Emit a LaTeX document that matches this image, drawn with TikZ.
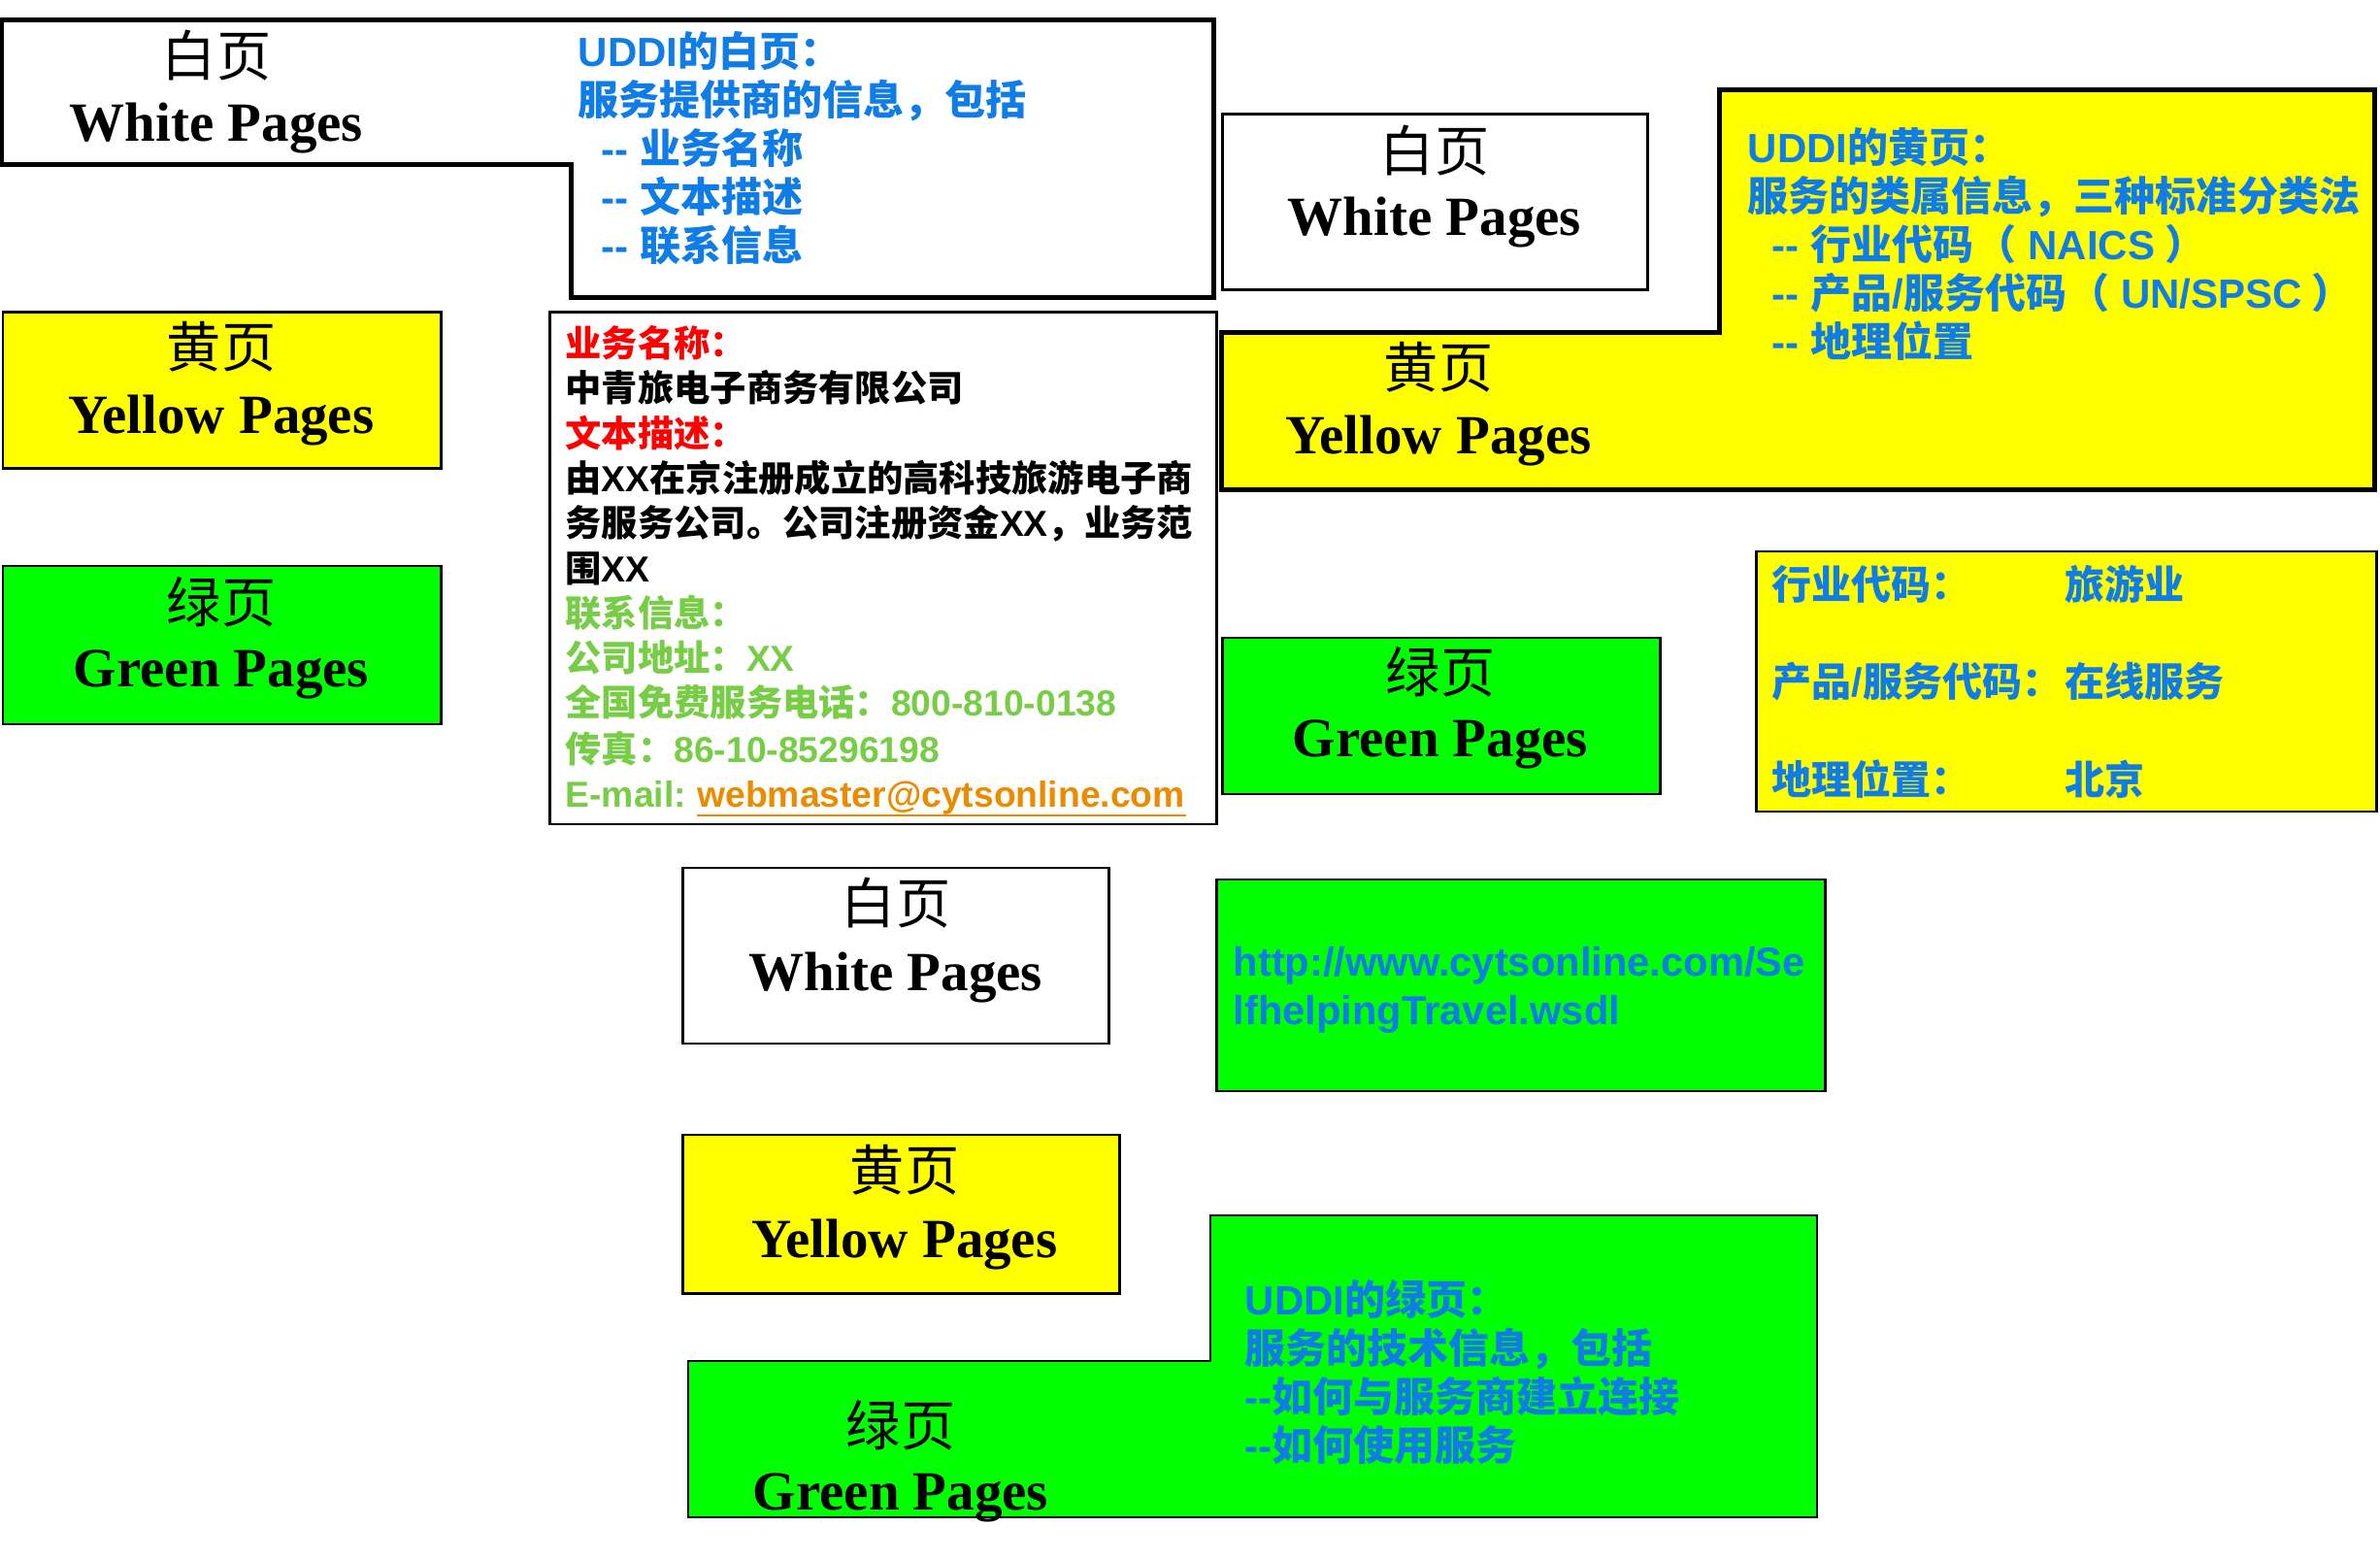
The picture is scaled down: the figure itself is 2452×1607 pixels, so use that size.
\documentclass[tikz,border=0pt]{standalone}
\usepackage{fontspec}
\usetikzlibrary{calc}
\newfontfamily\cjkf{Noto Sans CJK SC}
\newfontfamily\arialf{Liberation Sans}
\newfontfamily\timesf{Liberation Serif}
\newcommand\latn[1]{{\arialf\bfseries #1}}
\definecolor{ublue}{RGB}{16,124,230}
\definecolor{ured}{RGB}{255,0,0}
\definecolor{ugreen}{RGB}{120,205,70}
\definecolor{uorange}{RGB}{235,140,0}
\definecolor{pyellow}{RGB}{255,255,0}
\definecolor{pgreen}{RGB}{0,255,0}

\begin{document}
\begin{tikzpicture}[x=0.01cm,y=-0.01cm,
  txt/.style={inner sep=0pt, anchor=base west},
  bluetxt/.style={txt, text=ublue, font=\cjkf\bfseries\fontsize{11.95}{14}\selectfont},
  infotxt/.style={txt, font=\cjkf\bfseries\fontsize{10.6}{12}\selectfont},
  codetxt/.style={txt, text=ublue, font=\cjkf\bfseries\fontsize{11.67}{14}\selectfont},
  urltxt/.style={txt, text=ublue, font=\arialf\bfseries\fontsize{11.85}{14}\selectfont},
  ttlcjk/.style={inner sep=0pt, anchor=center, font=\cjkf\fontsize{16}{18}\selectfont},
  ttllat/.style={inner sep=0pt, anchor=base, font=\timesf\bfseries\fontsize{16.2}{18}\selectfont},
  boxheavy/.style={draw=black, line width=1.42pt, line join=miter},
  boxline/.style={draw=black, line width=0.85pt},
  boxslim/.style={draw=black, line width=0.57pt},
]
\useasboundingbox (0,0) rectangle (2452,1607);
\fill[white] (0,0) rectangle (2452,1607);

% ---- left column: the three page kinds ----
\path[boxheavy, fill=white] (2,21) -- (1250,21) -- (1250,307) -- (588,307) -- (588,170) -- (2,170) -- cycle;
\path[boxline, fill=pyellow] (3,322) rectangle (454,483);
\path[boxline, fill=pgreen] (3,583) rectangle (454,746);

% ---- business entity details ----
\path[boxline, fill=white] (566,322) rectangle (1253,849);

% ---- middle-bottom stack ----
\path[boxline, fill=white] (703,894) rectangle (1142,1075);
\path[boxline, fill=pyellow] (703,1169) rectangle (1153,1332);
\path[boxslim, fill=pgreen] (709,1402) -- (1247,1402) -- (1247,1252) -- (1872,1252) -- (1872,1563) -- (709,1563) -- cycle;

% ---- right column ----
\path[boxline, fill=white] (1259,118) rectangle (1697,299);
\path[boxheavy, fill=pyellow] (1258,343) -- (1771,343) -- (1771,93) -- (2446,93) -- (2446,505) -- (1258,505) -- cycle;
\path[boxline, fill=pgreen] (1259,657) rectangle (1710,818);
\path[boxline, fill=pyellow] (1809,568) rectangle (2448,836);
\path[boxline, fill=pgreen] (1253,906) rectangle (1880,1124);

% ---- page titles ----
\node[ttlcjk] (wp1c) at (223,57) {白页};
\node[ttllat] (wp1l) at (223,146) {White Pages};
\node[ttlcjk] (yp1c) at (228,357) {黄页};
\node[ttllat] (yp1l) at (228,447) {Yellow Pages};
\node[ttlcjk] (gp1c) at (228,620) {绿页};
\node[ttllat] (gp1l) at (228,708) {Green Pages};

\node[ttlcjk] (wp2c) at (1478,155) {白页};
\node[ttllat] (wp2l) at (1478,243) {White Pages};
\node[ttlcjk] (yp2c) at (1482,378) {黄页};
\node[ttllat] (yp2l) at (1482,468) {Yellow Pages};
\node[ttlcjk] (gp2c) at (1484,692) {绿页};
\node[ttllat] (gp2l) at (1484,780) {Green Pages};

\node[ttlcjk] (wp3c) at (923,930) {白页};
\node[ttllat] (wp3l) at (923,1020) {White Pages};
\node[ttlcjk] (yp3c) at (932,1205) {黄页};
\node[ttllat] (yp3l) at (932,1295) {Yellow Pages};
\node[ttlcjk] (gp3c) at (928,1468) {绿页};
\node[ttllat] (gp3l) at (928,1555) {Green Pages};

% ---- white pages description ----
\node[bluetxt] (wa1) at (595,69) {\latn{UDDI}的白页：};
\node[bluetxt] (wa2) at (595,119) {服务提供商的信息，包括};
\node[bluetxt] (wa3) at (619,169) {\latn{-{}- }业务名称};
\node[bluetxt] (wa4) at (619,219) {\latn{-{}- }文本描述};
\node[bluetxt] (wa5) at (619,269) {\latn{-{}- }联系信息};

% ---- yellow pages description ----
\node[bluetxt] (wb1) at (1800,168) {\latn{UDDI}的黄页：};
\node[bluetxt] (wb2) at (1800,218) {服务的类属信息，三种标准分类法};
\node[bluetxt] (wb3) at (1825,268) {\latn{-{}- }行业代码\hspace{0.6pt}（\hspace{3.4pt}\latn{NAICS}\hspace{2.8pt}）};
\node[bluetxt] (wb4) at (1825,318) {\latn{-{}- }产品\latn{/}服务代码\hspace{0.6pt}（\hspace{3.4pt}\latn{UN/SPSC}\hspace{2.8pt}）};
\node[bluetxt] (wb5) at (1825,368) {\latn{-{}- }地理位置};

% ---- green pages description ----
\node[bluetxt] (wc1) at (1282,1354) {\latn{UDDI}的绿页：};
\node[bluetxt] (wc2) at (1282,1404) {服务的技术信息，包括};
\node[bluetxt] (wc3) at (1282,1454) {\latn{-{}-}如何与服务商建立连接};
\node[bluetxt] (wc4) at (1282,1504) {\latn{-{}-}如何使用服务};

% ---- business entity text ----
\node[infotxt, text=ured] (m1) at (582,368) {业务名称：};
\node[infotxt] (m2) at (582,414) {中青旅电子商务有限公司};
\node[infotxt, text=ured] (m3) at (582,461) {文本描述：};
\node[infotxt] (m4) at (582,507) {由\latn{XX}在京注册成立的高科技旅游电子商};
\node[infotxt] (m5) at (582,553) {务服务公司。公司注册资金\latn{XX}，业务范};
\node[infotxt] (m6) at (582,600) {围\latn{XX}};
\node[infotxt, text=ugreen] (m7) at (582,646) {联系信息：};
\node[infotxt, text=ugreen] (m8) at (582,692) {公司地址：\latn{XX}};
\node[infotxt, text=ugreen] (m9) at (582,738) {全国免费服务电话：\latn{800-810-0138}};
\node[infotxt, text=ugreen] (m10) at (582,785) {传真：\latn{86-10-85296198}};
\node[infotxt, text=ugreen] (m11) at (582,831) {\latn{E-mail:}};
\node[infotxt, text=uorange] (email) at ($(m11.base east)+(10,0)$) {\latn{webmaster@cytsonline.com}};
\draw[uorange, line width=0.55pt] ($(email.base west)+(0,9)$) -- ($(email.base east)+(0,9)$);

% ---- category codes ----
\node[codetxt] (c1) at (1825,618) {行业代码：};
\node[codetxt] (c1v) at (2127,618) {旅游业};
\node[codetxt] (c2) at (1825,718) {产品\latn{/}服务代码：};
\node[codetxt] (c2v) at (2127,718) {在线服务};
\node[codetxt] (c3) at (1825,818) {地理位置：};
\node[codetxt] (c3v) at (2127,818) {北京};

% ---- service description URL ----
\node[urltxt] (u1) at (1270,1005) {http://www.cytsonline.com/Se};
\node[urltxt] (u2) at (1270,1055) {lfhelpingTravel.wsdl};
\end{tikzpicture}
\end{document}
